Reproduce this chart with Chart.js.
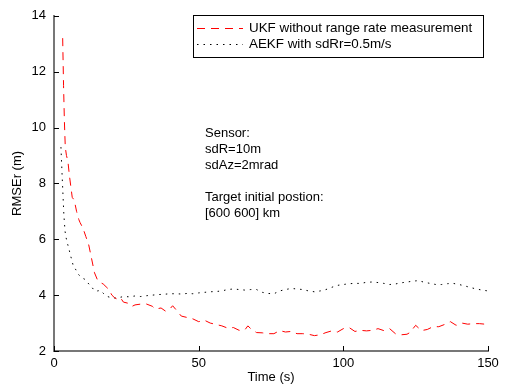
<!DOCTYPE html>
<html>
<head>
<meta charset="utf-8">
<script src="https://cdn.jsdelivr.net/npm/chart.js@4/dist/chart.umd.min.js"></script>
<style>
  html, body { margin: 0; padding: 0; background: #fff; }
  #wrap { width: 507px; height: 391px; }
</style>
</head>
<body>
<div id="wrap"><canvas id="c" width="507" height="391"></canvas></div>
<script>
// RMSE of range over time for two filters
const seriesNames = ['UKF without range rate measurement', 'AEKF with sdRr=0.5m/s'];

const ukfTime = [3, 3.3, 3.6, 3.9, 4.3, 4.8, 5.3, 5.8, 6.3, 7, 7.8, 8.6, 9, 10, 11, 12, 13, 14, 15, 16,
  17, 18, 19, 20, 21, 22, 23, 24, 26, 27, 28, 30, 32, 34, 35, 37, 38.5, 40, 41, 42,
  44, 46, 48, 50, 52, 54, 56, 58, 60, 62, 64, 66, 67, 68, 70, 72, 74, 76, 78, 80,
  82, 84, 86, 88, 90, 92, 94, 96, 98, 100, 102, 104, 106, 108, 110, 112, 114, 116, 118, 120,
  122, 123, 125, 127, 129, 131, 133, 135, 137, 139, 141, 143, 145, 147, 150];
const ukfRmse = [13.2, 11.5, 10.2, 9.3, 9.0, 8.8, 8.3, 7.9, 7.5, 7.4, 7.0, 6.7, 6.6, 6.4, 6.1, 5.8, 5.3, 4.8, 4.55, 4.45,
  4.4, 4.3, 4.2, 4.0, 3.9, 3.85, 3.9, 3.75, 3.7, 3.6, 3.65, 3.68, 3.68, 3.6, 3.5, 3.54, 3.43, 3.5, 3.62, 3.5,
  3.25, 3.2, 3.15, 3.05, 3.1, 3.0, 2.95, 2.9, 2.82, 2.84, 2.74, 2.76, 2.9, 2.8, 2.66, 2.65, 2.62, 2.62, 2.73, 2.68,
  2.7, 2.62, 2.62, 2.6, 2.55, 2.58, 2.66, 2.72, 2.68, 2.8, 2.84, 2.7, 2.74, 2.72, 2.74, 2.8, 2.73, 2.8, 2.62, 2.58,
  2.6, 2.66, 2.92, 2.73, 2.77, 2.87, 2.87, 2.95, 3.05, 2.92, 3.0, 2.96, 2.98, 2.98, 2.95];

const aekfTime = [2.4, 2.8, 3.1, 3.4, 3.8, 4.1, 4.5, 5.2, 5.6, 6.2, 6.6, 7.6, 8.6, 10, 11, 12, 13, 14, 15, 16,
  17.2, 18.5, 20, 22, 24, 26, 28, 30, 32, 34, 36, 38, 40, 42, 44, 46, 48, 50, 52, 54,
  56, 58, 60, 62, 64, 66, 68, 70, 72, 74, 76, 78, 80, 82, 84, 86, 88, 90, 92, 94,
  96, 98, 100, 102, 104, 106, 108, 110, 112, 114, 116, 118, 120, 122, 124, 126, 128, 130, 132, 134,
  136, 138, 140, 142, 144, 146, 148, 150];
const aekfRmse = [9.3, 8.3, 7.6, 6.9, 6.3, 6.1, 5.9, 5.65, 5.45, 5.25, 5.07, 4.9, 4.72, 4.6, 4.55, 4.4, 4.3, 4.15, 4.15, 4.17,
  4.05, 3.95, 3.9, 3.9, 3.95, 3.94, 3.97, 3.95, 3.98, 4.0, 4.02, 4.03, 4.05, 4.05, 4.04, 4.06, 4.05, 4.08, 4.1, 4.12,
  4.13, 4.15, 4.2, 4.22, 4.2, 4.18, 4.2, 4.2, 4.1, 4.06, 4.05, 4.15, 4.2, 4.24, 4.22, 4.2, 4.15, 4.12, 4.15, 4.2,
  4.28, 4.35, 4.38, 4.41, 4.42, 4.42, 4.46, 4.47, 4.45, 4.42, 4.38, 4.4, 4.44, 4.47, 4.5, 4.52, 4.46, 4.42, 4.38, 4.38,
  4.41, 4.42, 4.38, 4.33, 4.27, 4.22, 4.18, 4.15];

const xTicks = [0, 50, 100, 150];
const yTicks = [2, 4, 6, 8, 10, 12, 14];
const noteLines = ['Sensor:', 'sdR=10m', 'sdAz=2mrad', '', 'Target initial postion:', '[600 600] km'];

const FONT = '"Liberation Sans", Arial, Helvetica, sans-serif';

function toPoints(xs, ys) { return xs.map((x, i) => ({ x: x, y: ys[i] })); }

// inward-pointing tick marks, legend box and sensor note
const decorations = {
  id: 'decorations',
  afterDatasetsDraw(chart) {
    const ctx = chart.ctx;
    const xs = chart.scales.x, ys = chart.scales.y;
    const ca = chart.chartArea;
    ctx.save();
    ctx.strokeStyle = '#000';
    ctx.lineWidth = 1;
    ctx.beginPath();
    xTicks.forEach(v => {
      const px = Math.round(xs.getPixelForValue(v)) + 0.5;
      ctx.moveTo(px, ca.bottom); ctx.lineTo(px, ca.bottom - 5);
    });
    yTicks.forEach(v => {
      const py = Math.round(ys.getPixelForValue(v)) + 0.5;
      ctx.moveTo(ca.left, py); ctx.lineTo(ca.left + 5, py);
    });
    ctx.stroke();

    // legend
    const bx = 193.5, by = 15.5, bw = 290, bh = 42;
    ctx.fillStyle = '#fff';
    ctx.fillRect(bx, by, bw, bh);
    ctx.strokeStyle = '#000';
    ctx.lineWidth = 1;
    ctx.strokeRect(bx, by, bw, bh);
    ctx.font = '13.4px ' + FONT;
    ctx.textBaseline = 'middle';
    ctx.textAlign = 'left';
    const rowsY = [28, 44];
    chart.data.datasets.forEach((ds, i) => {
      ctx.save();
      ctx.strokeStyle = ds.borderColor;
      ctx.lineWidth = ds.borderWidth;
      ctx.setLineDash(ds.borderDash);
      ctx.beginPath();
      ctx.moveTo(197, rowsY[i] + 0.5);
      ctx.lineTo(243, rowsY[i] + 0.5);
      ctx.stroke();
      ctx.restore();
      ctx.fillStyle = '#000';
      ctx.fillText(ds.label, 249, rowsY[i]);
    });

    // sensor / target note
    ctx.font = '13px ' + FONT;
    ctx.fillStyle = '#000';
    noteLines.forEach((t, i) => {
      if (t) ctx.fillText(t, 205, 133 + i * 16);
    });
    ctx.restore();
  }
};

new Chart(document.getElementById('c'), {
  type: 'line',
  data: {
    datasets: [
      {
        label: seriesNames[0],
        data: toPoints(ukfTime, ukfRmse),
        borderColor: '#ff0000',
        borderWidth: 1,
        borderDash: [8, 6],
        pointRadius: 0,
        tension: 0,
        fill: false
      },
      {
        label: seriesNames[1],
        data: toPoints(aekfTime, aekfRmse),
        borderColor: '#000000',
        borderWidth: 1,
        borderDash: [1.5, 5],
        pointRadius: 0,
        tension: 0,
        fill: false
      }
    ]
  },
  options: {
    responsive: false,
    animation: false,
    events: [],
    layout: { padding: { left: 0, right: 19, top: 8, bottom: 0 } },
    plugins: { legend: { display: false }, tooltip: { enabled: false } },
    scales: {
      x: {
        type: 'linear',
        min: 0, max: 150,
        afterFit(s) { s.height = 40; },
        afterBuildTicks(s) { s.ticks = xTicks.map(v => ({ value: v })); },
        grid: { display: true, drawOnChartArea: false, drawTicks: false },
        border: { display: true, color: '#777', width: 2 },
        ticks: { color: '#000', padding: 5, maxRotation: 0, font: { family: FONT, size: 13 } },
        title: { display: true, text: 'Time (s)', color: '#000', padding: { top: 0, bottom: 6 }, font: { family: FONT, size: 13 } }
      },
      y: {
        type: 'linear',
        min: 2, max: 14,
        afterFit(s) { s.width = 54; },
        afterBuildTicks(s) { s.ticks = yTicks.map(v => ({ value: v })); },
        grid: { display: true, drawOnChartArea: false, drawTicks: false },
        border: { display: true, color: '#777', width: 2 },
        ticks: { color: '#000', padding: 8, font: { family: FONT, size: 13 } },
        title: { display: true, text: 'RMSEr (m)', color: '#000', padding: { top: 10, bottom: 0 }, font: { family: FONT, size: 13 } }
      }
    }
  },
  plugins: [decorations]
});
</script>
</body>
</html>
